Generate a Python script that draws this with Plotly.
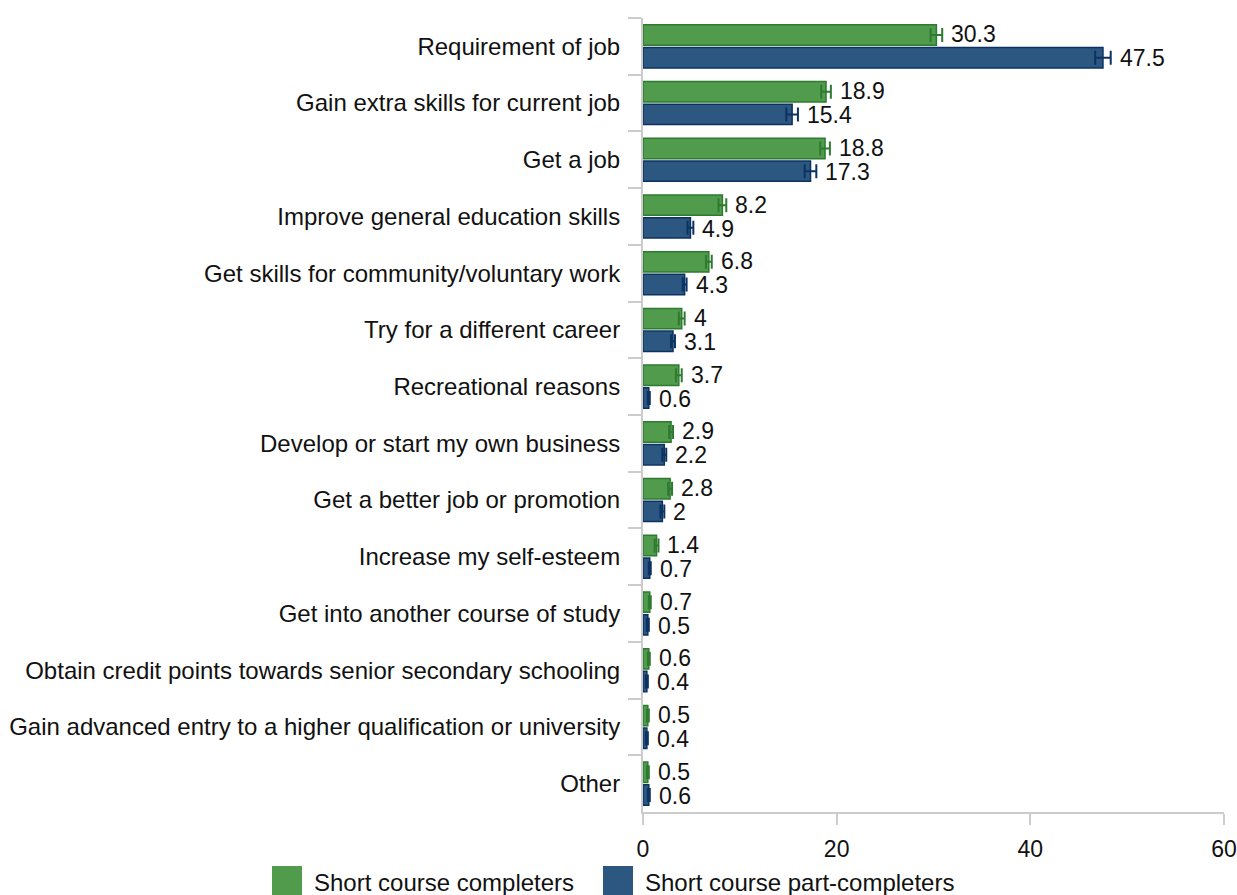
import plotly.graph_objects as go

categories = [
    "Requirement of job",
    "Gain extra skills for current job",
    "Get a job",
    "Improve general education skills",
    "Get skills for community/voluntary work",
    "Try for a different career",
    "Recreational reasons",
    "Develop or start my own business",
    "Get a better job or promotion",
    "Increase my self-esteem",
    "Get into another course of study",
    "Obtain credit points towards senior secondary schooling",
    "Gain advanced entry to a higher qualification or university",
    "Other",
]
completers = [30.3, 18.9, 18.8, 8.2, 6.8, 4.0, 3.7, 2.9, 2.8, 1.4, 0.7, 0.6, 0.5, 0.5]
completers_err = [0.6, 0.5, 0.5, 0.4, 0.3, 0.3, 0.3, 0.2, 0.2, 0.2, 0.1, 0.1, 0.1, 0.1]
part_completers = [47.5, 15.4, 17.3, 4.9, 4.3, 3.1, 0.6, 2.2, 2.0, 0.7, 0.5, 0.4, 0.4, 0.6]
part_completers_err = [0.8, 0.6, 0.6, 0.3, 0.2, 0.2, 0.1, 0.2, 0.2, 0.1, 0.1, 0.1, 0.1, 0.1]
x_ticks = [0, 20, 40, 60]
series_names = ["Short course completers", "Short course part-completers"]

GREEN, GREEN_DARK = "#519c4c", "#2e7a30"
BLUE, BLUE_DARK = "#2b5780", "#0c3262"
FONT = "Liberation Sans, Arial, sans-serif"
TEXT = "#111111"

W, H = 1237, 895
L, R, T, B = 643, 13, 18, 83
PW, PH = W - L - R, H - T - B

fig = go.Figure()
for name, vals, errs, fill, edge in [
    (series_names[0], completers, completers_err, GREEN, GREEN_DARK),
    (series_names[1], part_completers, part_completers_err, BLUE, BLUE_DARK),
]:
    fig.add_trace(go.Bar(
        y=categories, x=vals, name=name, orientation="h",
        marker=dict(color=fill, line=dict(color=edge, width=1.5)),
        error_x=dict(type="data", array=errs, color=edge, thickness=2, width=7),
        showlegend=False,
    ))

# value labels placed just beyond each error bar
annotations = []
for vals, errs, shift in [(completers, completers_err, 12), (part_completers, part_completers_err, -12)]:
    for cat, v, e in zip(categories, vals, errs):
        annotations.append(dict(
            x=v + e, y=cat, xref="x", yref="y", text=f"{v:g}",
            xanchor="left", yanchor="middle", xshift=7, yshift=shift,
            showarrow=False, font=dict(size=23, color=TEXT, family=FONT),
        ))

# legend drawn as swatches with text
legend_items = [(series_names[0], GREEN, 272), (series_names[1], BLUE, 603)]
shapes = []
for name, color, px in legend_items:
    shapes.append(dict(type="rect", xref="paper", yref="paper",
                       x0=(px - L) / PW, x1=(px + 30 - L) / PW,
                       y0=-(897 - T - PH) / PH, y1=-(866 - T - PH) / PH,
                       fillcolor=color, line=dict(width=0)))
    annotations.append(dict(x=(px + 40 - L) / PW, y=-(882 - T - PH) / PH,
                            xref="paper", yref="paper", text=name,
                            xanchor="left", yanchor="middle", showarrow=False,
                            font=dict(size=24, color=TEXT, family=FONT)))

fig.update_layout(
    width=W, height=H,
    margin=dict(l=L, r=R, t=T, b=B, autoexpand=False),
    paper_bgcolor="white", plot_bgcolor="white",
    barmode="group", bargap=0.2, bargroupgap=0.1,
    font=dict(family=FONT, size=24, color=TEXT),
    annotations=annotations, shapes=shapes,
    xaxis=dict(range=[0, 60], tickvals=x_ticks, showgrid=False, zeroline=False,
               automargin=False, showline=True, linecolor="#cccccc", linewidth=2,
               ticks="outside", ticklen=11, tickcolor="#cccccc", tickwidth=2,
               tickfont=dict(size=23), ticklabelstandoff=4),
    yaxis=dict(autorange="reversed", showgrid=False, showline=True, automargin=False,
               linecolor="#cccccc", linewidth=2, ticks="outside", ticklen=13,
               tickcolor="#cccccc", tickwidth=2, tickson="boundaries",
               ticklabelstandoff=16),
)

fig.write_html("out.html")
